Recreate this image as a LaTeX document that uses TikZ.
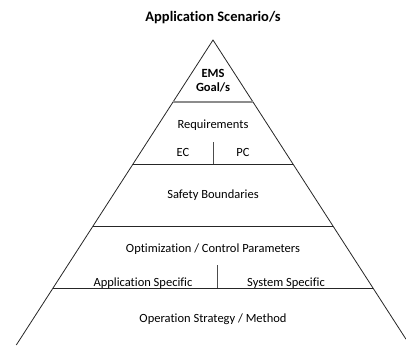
\documentclass[tikz,border=0pt]{standalone}
\usepackage{fontspec}
\setmainfont{Carlito}[Ligatures={NoCommon,NoRequired,NoContextual}]
\begin{document}
\begin{tikzpicture}[x=1pt,y=-1pt,
  edge/.style={draw=black!85,line width=0.8pt},
  grayedge/.style={draw=black!45,line width=1.6pt},
  divider/.style={draw=black!70,line width=0.8pt},
  lbl/.style={font=\fontsize{12.5}{14}\selectfont,inner sep=0pt,anchor=center},
  blbl/.style={font=\fontsize{12.5}{14}\selectfont\bfseries,inner sep=0pt,anchor=center,align=center}]
\useasboundingbox (0,0) rectangle (406,345);
% pyramid outline
\coordinate (apex) at (213,40);
\coordinate (bl) at (16.3,345);
\coordinate (br) at (406,339.2);
\draw[edge] (bl) -- (apex) -- (br);
% layer lines
\draw[grayedge] (173.2,101.7) -- (252.8,101.7);
\draw[edge] (133,164) -- (293,164);
\draw[edge] (93,226) -- (333,226);
\draw[edge] (53,288) -- (373,288);
% dividers
\draw[divider] (213,142) -- (213,164);
\draw[divider] (217,265) -- (217,288);
% texts
\node[blbl,font=\fontsize{14.5}{16}\selectfont\bfseries] (title) at (213,18) {Application Scenario/s};
\node[blbl] (ems) at (213,80.5) {EMS\\Goal/s};
\node[lbl] (req) at (213,125) {Requirements};
\node[lbl] (ec) at (183,152) {EC};
\node[lbl] (pc) at (243,152) {PC};
\node[lbl] (safe) at (213,195) {Safety Boundaries};
\node[lbl] (opt) at (213,249) {Optimization / Control Parameters};
\node[lbl] (app) at (143,283) {Application Specific};
\node[lbl] (sys) at (286,283) {System Specific};
\node[lbl] (oper) at (213,319) {Operation Strategy / Method};
\end{tikzpicture}
\end{document}
